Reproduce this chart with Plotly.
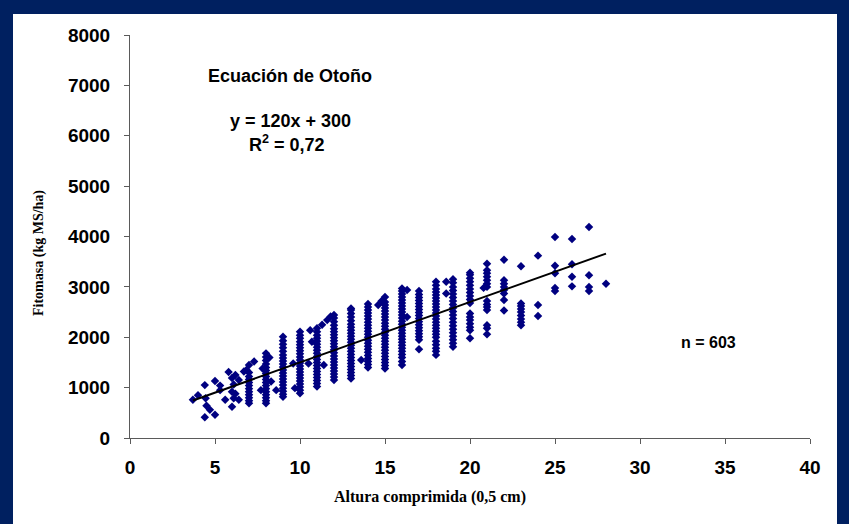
import plotly.graph_objects as go

# ---------------- data ----------------
column_x = [7, 8, 9, 10, 11, 12, 13, 14, 15, 16, 17, 18, 19, 20, 21, 22, 23, 24, 25, 26, 27, 28]
column_y = [
    [690, 740, 800, 860, 920, 980, 1040, 1100, 1160, 1220, 1300, 1450],
    [690, 740, 800, 860, 920, 980, 1040, 1100, 1160, 1220, 1280, 1340, 1400, 1470, 1540, 1610, 1680],
    [820, 870, 930, 990, 1050, 1110, 1170, 1230, 1290, 1350, 1410, 1470, 1530, 1590, 1650, 1720, 1790, 1860, 1930, 2010],
    [890, 950, 1010, 1070, 1130, 1190, 1250, 1310, 1370, 1430, 1490, 1550, 1610, 1670, 1730, 1790, 1850, 1910, 1980, 2040, 2110],
    [1020, 1080, 1140, 1200, 1260, 1320, 1380, 1440, 1500, 1560, 1620, 1680, 1740, 1800, 1860, 1920, 1980, 2040, 2110, 2180],
    [1150, 1210, 1270, 1330, 1390, 1450, 1510, 1570, 1630, 1690, 1750, 1810, 1870, 1930, 1990, 2050, 2110, 2170, 2240, 2310, 2380, 2440],
    [1180, 1240, 1300, 1360, 1420, 1480, 1540, 1600, 1660, 1720, 1780, 1840, 1900, 1960, 2020, 2080, 2140, 2200, 2260, 2330, 2400, 2470, 2540, 2570],
    [1400, 1460, 1520, 1580, 1640, 1700, 1760, 1820, 1880, 1940, 2000, 2060, 2120, 2180, 2240, 2300, 2360, 2420, 2480, 2540, 2600, 2660],
    [1380, 1440, 1500, 1560, 1620, 1680, 1740, 1800, 1860, 1920, 1980, 2040, 2100, 2160, 2220, 2280, 2340, 2400, 2460, 2520, 2580, 2640, 2700],
    [1450, 1520, 1600, 1660, 1720, 1780, 1840, 1900, 1960, 2020, 2080, 2140, 2200, 2260, 2320, 2380, 2440, 2500, 2560, 2620, 2680, 2740, 2800, 2860, 2920, 2970],
    [1760, 1950, 2010, 2070, 2130, 2190, 2250, 2310, 2370, 2430, 2490, 2550, 2610, 2670, 2730, 2790, 2850, 2920],
    [1650, 1720, 1780, 1850, 1920, 2000, 2060, 2120, 2180, 2240, 2300, 2360, 2420, 2480, 2540, 2600, 2660, 2720, 2780, 2840, 2900, 2960, 3030, 3100],
    [1810, 1880, 1950, 2020, 2090, 2160, 2230, 2300, 2370, 2440, 2510, 2580, 2650, 2720, 2790, 2860, 2930, 3000, 3080, 3150],
    [1980, 2140, 2200, 2270, 2340, 2400, 2470, 2680, 2750, 2820, 2890, 2960, 3030, 3100, 3170, 3240, 3280],
    [2060, 2180, 2240, 2540, 2600, 2650, 2720, 3000, 3060, 3130, 3200, 3270, 3330, 3460],
    [2530, 2740, 2870, 2940, 3000, 3060, 3130, 3540],
    [2240, 2300, 2360, 2430, 2500, 2560, 2620, 2670, 3410],
    [2420, 2640, 3620],
    [2920, 2980, 3270, 3420, 3990],
    [3010, 3200, 3450, 3950],
    [2920, 3000, 3230, 4190],
    [3060],
]

extra_x = [3.7, 4.0, 4.4, 4.45, 4.5, 4.7, 4.4, 5.0, 5.0, 5.3, 5.3, 5.6, 5.8, 6.0, 6.1, 6.0, 6.2, 6.1,
           6.0, 6.4, 6.4, 6.7, 6.85, 6.2, 7.3, 7.7, 7.8, 8.2, 8.3, 8.6, 9.6, 9.7, 10.5, 10.6, 10.7,
           11.4, 11.3, 11.6, 11.8, 13.6, 14.6, 14.8, 15.0, 16.3, 16.3, 18.6, 18.6, 20.8]
extra_y = [760, 850, 1050, 790, 640, 560, 410, 460, 1130, 950, 1040, 760, 1310, 1190, 1060, 920, 880, 790,
           620, 760, 1150, 1320, 1350, 1250, 1520, 950, 1380, 1600, 1120, 950, 1480, 990, 1480, 2140, 1910,
           1450, 2250, 2340, 2410, 1550, 2640, 2720, 2800, 2940, 2400, 3100, 2870, 2980]

trend_slope = 120
trend_intercept = 300
trend_x = [3.7, 28]

x_ticks = [0, 5, 10, 15, 20, 25, 30, 35, 40]
y_ticks = [0, 1000, 2000, 3000, 4000, 5000, 6000, 7000, 8000]

x_title = "Altura comprimida (0,5 cm)"
y_title = "Fitomasa (kg MS/ha)"
box_title = "Ecuación de Otoño"
equation = "y = 120x + 300"
r2_text = "R<sup>2</sup> = 0,72"
n_text = "n = 603"

# ---------------- build ----------------
pts_x, pts_y = [], []
for cx, ys in zip(column_x, column_y):
    for v in ys:
        pts_x.append(cx)
        pts_y.append(v)
pts_x += extra_x
pts_y += extra_y

trend_y = [trend_slope * v + trend_intercept for v in trend_x]

NAVY = "#002060"
AXIS = "#5a5a5a"
sans = "Arial, Liberation Sans, sans-serif"
serif = "Times New Roman, Liberation Serif, serif"

fig = go.Figure()
fig.add_trace(go.Scatter(x=pts_x, y=pts_y, mode="markers",
                         marker=dict(symbol="diamond", size=6.5, color="#000080", line=dict(width=0)),
                         hoverinfo="skip"))
fig.add_trace(go.Scatter(x=trend_x, y=trend_y, mode="lines",
                         line=dict(color="black", width=2), hoverinfo="skip"))

L, R, T, B = 130, 39, 35, 86
W, H = 849, 524
pw, ph = W - L - R, H - T - B

def px(xpix):
    return (xpix - L) / pw

def py(ypix):
    return (H - B - ypix) / ph

fig.update_layout(
    width=W, height=H,
    margin=dict(l=L, r=R, t=T, b=B, pad=0),
    paper_bgcolor=NAVY, plot_bgcolor="white",
    showlegend=False,
    shapes=[dict(type="rect", xref="paper", yref="paper", layer="below",
                 x0=px(13), x1=px(837), y0=py(524), y1=py(14),
                 fillcolor="white", line=dict(width=0))],
)

axis_common = dict(showline=True, linecolor=AXIS, linewidth=1, ticks="outside", ticklen=5,
                   tickcolor=AXIS, tickwidth=1, showgrid=False, zeroline=False,
                   tickfont=dict(family=sans, size=19, color="black", weight="bold"))
fig.update_xaxes(range=[0, 40], tickvals=x_ticks, ticklabelstandoff=7, **axis_common)
fig.update_yaxes(range=[0, 8000], tickvals=y_ticks, ticklabelstandoff=10, **axis_common)

ann_font = dict(family=sans, size=18, color="black", weight="bold")
fig.add_annotation(x=px(290), y=py(76), xref="paper", yref="paper", text=box_title,
                   showarrow=False, font=ann_font, xanchor="center", yanchor="middle")
fig.add_annotation(x=px(290), y=py(121), xref="paper", yref="paper", text=equation,
                   showarrow=False, font=ann_font, xanchor="center", yanchor="middle")
fig.add_annotation(x=px(287), y=py(143), xref="paper", yref="paper", text=r2_text,
                   showarrow=False, font=ann_font, xanchor="center", yanchor="middle")
fig.add_annotation(x=px(708), y=py(342), xref="paper", yref="paper", text=n_text,
                   showarrow=False, font=dict(family=sans, size=16, color="black", weight="bold"),
                   xanchor="center", yanchor="middle")
fig.add_annotation(x=px(430), y=py(497), xref="paper", yref="paper", text=x_title,
                   showarrow=False, font=dict(family=serif, size=16, color="black", weight="bold"),
                   xanchor="center", yanchor="middle")
fig.add_annotation(x=px(39), y=py(253), xref="paper", yref="paper", text=y_title, textangle=-90,
                   showarrow=False, font=dict(family=serif, size=14, color="black", weight="bold"),
                   xanchor="center", yanchor="middle")

fig.write_html("out.html")
